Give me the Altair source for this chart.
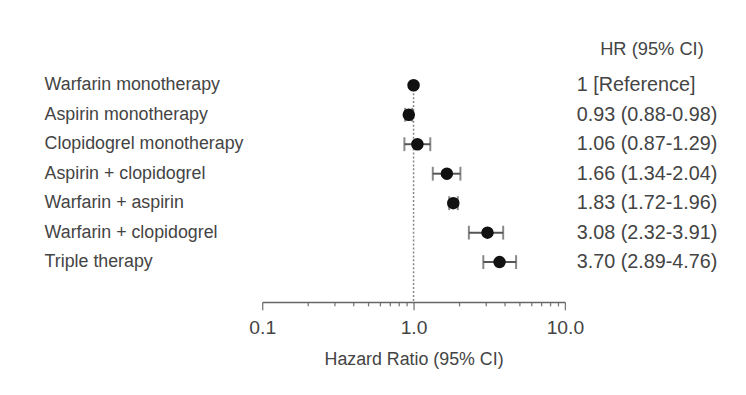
import altair as alt
import pandas as pd

labels = ["Warfarin monotherapy", "Aspirin monotherapy", "Clopidogrel monotherapy",
          "Aspirin + clopidogrel", "Warfarin + aspirin", "Warfarin + clopidogrel",
          "Triple therapy"]
hr = [1.0, 0.93, 1.06, 1.66, 1.83, 3.08, 3.70]
ci_lo = [None, 0.88, 0.87, 1.34, 1.72, 2.32, 2.89]
ci_hi = [None, 0.98, 1.29, 2.04, 1.96, 3.91, 4.76]
hr_text = ["1 [Reference]", "0.93 (0.88-0.98)", "1.06 (0.87-1.29)", "1.66 (1.34-2.04)",
           "1.83 (1.72-1.96)", "3.08 (2.32-3.91)", "3.70 (2.89-4.76)"]
tick_values = [0.1, 0.2, 0.3, 0.4, 0.5, 0.6, 0.7, 0.8, 0.9,
               1, 2, 3, 4, 5, 6, 7, 8, 9, 10]
header = "HR (95% CI)"
x_title = "Hazard Ratio (95% CI)"

df = pd.DataFrame({"label": labels, "hr": hr, "lo": ci_lo, "hi": ci_hi,
                   "txt": hr_text, "row": list(range(len(labels)))})
ci = df.dropna(subset=["lo"])
ref = pd.DataFrame({"x": [1.0], "y": [0.0], "y2": [7.35]})

FONT = "Liberation Sans, Arial, sans-serif"
TXT = "#444444"

xscale = alt.Scale(type="log", domain=[0.1, 10], nice=False)
yscale = alt.Scale(domain=[-0.47, 7.35], reverse=True)

base = alt.Chart(df)

xaxis = alt.Axis(
    values=tick_values,
    labelExpr="datum.value == 0.1 || datum.value == 1 || datum.value == 10 ? format(datum.value, '.1f') : ''",
    tickSize={"condition": {"test": "datum.value == 0.1 || datum.value == 1 || datum.value == 10", "value": 8}, "value": 4},
    grid=False, domainColor="#666666", domainWidth=1.5, tickColor="#777777", tickWidth=1.3,
    labelFont=FONT, labelFontSize=19.5, labelColor=TXT, labelPadding=9,
    labelFlush=False, labelOverlap=False,
    titleFont=FONT, titleFontSize=18, titleColor=TXT, titleFontWeight="normal",
    titlePadding=14,
)

refline = alt.Chart(ref).mark_rule(color="#888888", strokeDash=[2, 2], strokeWidth=1.5).encode(
    x=alt.X("x:Q", scale=xscale, axis=xaxis, title=x_title),
    y=alt.Y("y:Q", scale=yscale, axis=None),
    y2="y2:Q",
)

bars = alt.Chart(ci).mark_rule(color="#555555", strokeWidth=2).encode(
    x=alt.X("lo:Q", scale=xscale),
    x2="hi:Q",
    y=alt.Y("row:Q", scale=yscale),
)
cap_lo = alt.Chart(ci).mark_tick(color="#555555", thickness=2, size=14, orient="vertical").encode(
    x=alt.X("lo:Q", scale=xscale),
    y=alt.Y("row:Q", scale=yscale),
)
cap_hi = alt.Chart(ci).mark_tick(color="#555555", thickness=2, size=14, orient="vertical").encode(
    x=alt.X("hi:Q", scale=xscale),
    y=alt.Y("row:Q", scale=yscale),
)
points = base.mark_circle(color="#111111", opacity=1, size=160).encode(
    x=alt.X("hr:Q", scale=xscale),
    y=alt.Y("row:Q", scale=yscale),
)
left_text = base.mark_text(align="left", baseline="middle", font=FONT, fontSize=18, color=TXT).encode(
    x=alt.value(-220),
    y=alt.Y("row:Q", scale=yscale),
    text="label:N",
)
right_text = base.mark_text(align="left", baseline="middle", font=FONT, fontSize=20, color=TXT).encode(
    x=alt.value(318),
    y=alt.Y("row:Q", scale=yscale),
    text="txt:N",
)
head = alt.Chart(pd.DataFrame({"t": [header]})).mark_text(
    align="center", baseline="middle", font=FONT, fontSize=18.5, color=TXT).encode(
    x=alt.value(394), y=alt.value(-23), text="t:N")

chart = alt.layer(refline, bars, cap_lo, cap_hi, points, left_text, right_text, head).properties(
    width=306, height=233,
    autosize=alt.AutoSizeParams(type="none"),
    padding={"left": 257, "top": 62, "right": 175, "bottom": 92},
    background="white",
).configure_view(stroke=None)

chart.save("out.html", embed_options={"renderer": "svg", "actions": False})
